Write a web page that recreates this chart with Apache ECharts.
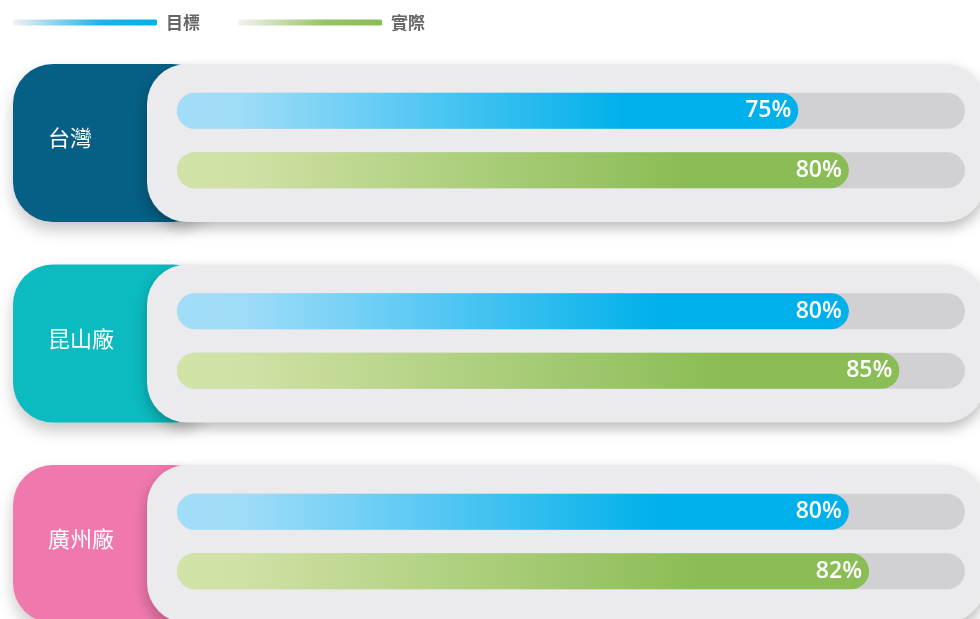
<!DOCTYPE html>
<html>
<head>
<meta charset="utf-8">
<style>
  html, body { margin: 0; padding: 0; background: #fff; }
  #chart1 { width: 980px; height: 619px; }
</style>
<script src="https://cdn.jsdelivr.net/npm/echarts@6/dist/echarts.min.js"></script>
</head>
<body>
<div id="chart1"></div>
<script>
// 各廠 目標 / 實際 達成率
var factories = ['台灣', '昆山廠', '廣州廠'];
var targetValues = [75, 80, 80];
var actualValues = [80, 85, 82];
var rowNames = ['目標', '實際'];
var panelColors = ['#065f85', '#0bbbbf', '#f078ad'];

var axisMin = 13.5, axisMax = 91.5;
var cardTop = 64, cardStep = 200.5, cardH = 158;

var mychart = echarts.init(document.getElementById('chart1'));

function grad(stops) {
    var s = [];
    for (var k = 0; k < stops.length; k++) {
        s.push({ offset: stops[k][0], color: stops[k][1] });
    }
    return { type: 'linear', x: 0, y: 0, x2: 1, y2: 0, colorStops: s };
}
function blueBar() {
    return grad([[0, '#a2ddf8'], [0.1, '#9fdcf8'], [0.72, '#00b0eb'], [1, '#00b0eb']]);
}
function greenBar() {
    return grad([[0, '#d1e3a7'], [0.1, '#cfe1a4'], [0.75, '#8bbd56'], [1, '#8bbd56']]);
}
function makeLabel() {
    return {
        show: true, position: 'insideRight', distance: 7,
        formatter: '{c}%', color: '#fff', fontSize: 23, fontWeight: 600,
        fontFamily: 'Open Sans'
    };
}

var grids = [], xAxes = [], yAxes = [], series = [], graphics = [];

for (var i = 0; i < factories.length; i++) {
    var cardY = cardTop + i * cardStep;

    // 卡片背景
    graphics.push({
        type: 'rect', z: 0,
        shape: { x: 13, y: cardY, width: 200, height: cardH, r: 40 },
        style: { fill: panelColors[i], shadowBlur: 16, shadowOffsetY: 8, shadowColor: 'rgba(0,0,0,0.22)' }
    });
    graphics.push({
        type: 'rect', z: 1,
        shape: { x: 147, y: cardY, width: 838, height: cardH, r: 40 },
        style: { fill: '#ebeaed', shadowBlur: 14, shadowOffsetY: 6, shadowColor: 'rgba(0,0,0,0.28)' }
    });
    graphics.push({
        type: 'text', z: 2,
        x: 48, y: cardY + cardH / 2 - 5,
        style: {
            text: factories[i], fill: '#fff', fontSize: 22,
            fontFamily: 'Noto Sans CJK TC', verticalAlign: 'middle', align: 'left'
        }
    });

    grids.push({ left: 177, width: 788, top: cardY + 17, height: 119 });
    xAxes.push({
        gridIndex: i, type: 'value', min: axisMin, max: axisMax,
        show: false
    });
    yAxes.push({
        gridIndex: i, type: 'category', data: rowNames, inverse: true,
        show: false
    });

    series.push({
        name: 'track', type: 'bar', xAxisIndex: i, yAxisIndex: i,
        data: [axisMax, axisMax], barWidth: 36, barGap: '-100%', silent: true,
        itemStyle: { color: '#d1d1d3', borderRadius: 18 }
    });
    series.push({
        name: '目標', type: 'bar', xAxisIndex: i, yAxisIndex: i,
        data: [targetValues[i], '-'], barWidth: 36, barGap: '-100%',
        itemStyle: { color: blueBar(), borderRadius: 18 }, label: makeLabel()
    });
    series.push({
        name: '實際', type: 'bar', xAxisIndex: i, yAxisIndex: i,
        data: ['-', actualValues[i]], barWidth: 36, barGap: '-100%',
        itemStyle: { color: greenBar(), borderRadius: 18 }, label: makeLabel()
    });
}

var option = {
    animation: false,
    legend: {
        left: 8, top: 9,
        icon: 'roundRect', itemWidth: 144, itemHeight: 6, itemGap: 38,
        textStyle: { color: '#666', fontSize: 17, fontWeight: 'bold', fontFamily: 'Noto Sans CJK TC', padding: [0, 0, 0, 4] },
        data: [
            { name: '目標', itemStyle: { color: grad([[0, '#f2f2f2'], [0.6, '#1fb3ea'], [1, '#00b0eb']]) } },
            { name: '實際', itemStyle: { color: grad([[0, '#f2f2f2'], [0.6, '#97c364'], [1, '#8bbd56']]) } }
        ]
    },
    graphic: graphics,
    grid: grids,
    xAxis: xAxes,
    yAxis: yAxes,
    series: series
};

mychart.setOption(option);
</script>
</body>
</html>
